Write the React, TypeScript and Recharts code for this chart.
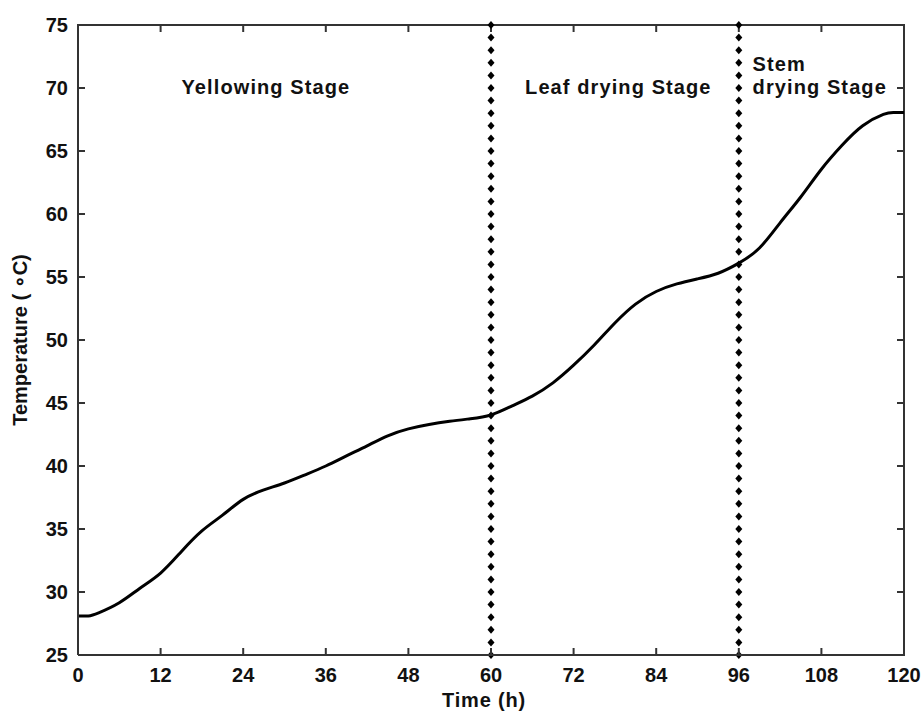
import React from 'react';
import { LineChart, Line, XAxis, YAxis, ReferenceLine, ReferenceDot, ReferenceArea, Label } from 'recharts';

const times = [0, 1.5, 3, 6, 9, 12, 15, 18, 21, 24, 27, 30, 33, 36, 39, 42, 45, 48, 51, 54, 57, 60, 63, 66, 69, 72, 75, 78, 81, 84, 87, 90, 93, 96, 99, 102, 105, 108, 111, 114, 117, 118.5, 120];
const temps = [28.1, 28.1, 28.35, 29.15, 30.3, 31.5, 33.2, 34.85, 36.1, 37.35, 38.1, 38.65, 39.3, 40.0, 40.8, 41.6, 42.4, 42.95, 43.3, 43.55, 43.75, 44.05, 44.75, 45.55, 46.6, 48.0, 49.6, 51.35, 52.85, 53.85, 54.45, 54.85, 55.3, 56.1, 57.3, 59.3, 61.35, 63.55, 65.45, 67.0, 67.9, 68.05, 68.05];

const xTicks = [0, 12, 24, 36, 48, 60, 72, 84, 96, 108, 120];
const yTicks = [25, 30, 35, 40, 45, 50, 55, 60, 65, 70, 75];
const xDomain = [0, 120];
const yDomain = [25, 75];
const stageBoundaries = [60, 96];

const stageNames = ['Yellowing Stage', 'Leaf drying Stage', 'Stem', 'drying Stage'];
const stageTimes = [27.3, 78.5, 98.0, 98.0];
const stageTemps = [69.5, 69.5, 71.35, 69.5];
const stageAnchors = ['middle', 'middle', 'start', 'start'];

const data = times.map((t, i) => ({ time: t, temp: temps[i] }));

const FONT = '"Liberation Sans", Arial, Helvetica, sans-serif';
const AXIS_COLOR = '#333';
const TICK_LEN = 7;
const X_MARGIN = 13;
const Y_MARGIN = 10;

// filled quadrilateral between two points, 2px thick
const bar = (ax: number, ay: number, bx: number, by: number, key?: string) => {
  const vertical = Math.abs(ax - bx) < Math.abs(ay - by);
  const pts = vertical
    ? `${ax - 1},${ay} ${ax + 1},${ay} ${bx + 1},${by} ${bx - 1},${by}`
    : `${ax},${ay - 1} ${ax},${ay + 1} ${bx},${by + 1} ${bx},${by - 1}`;
  return <polygon key={key} points={pts} fill={AXIS_COLOR} />;
};

const BottomTick = (props: any) => {
  const { x, y, payload } = props;
  const axisY = Number(y) - X_MARGIN;
  const px = Number(x);
  return (
    <g>
      {bar(px, axisY, px, axisY - TICK_LEN)}
      <text x={px} y={y} dy="0.71em" textAnchor="middle" fontFamily={FONT} fontWeight="bold" fontSize={20} fill="#111">
        {payload.value}
      </text>
    </g>
  );
};

const LeftTick = (props: any) => {
  const { x, y, payload } = props;
  const axisX = Number(x) + Y_MARGIN;
  const py = Number(y);
  return (
    <g>
      {bar(axisX, py, axisX + TICK_LEN, py)}
      <text x={x} y={py} dy="0.355em" textAnchor="end" fontFamily={FONT} fontWeight="bold" fontSize={20} fill="#111">
        {payload.value}
      </text>
    </g>
  );
};

// Frame: top and right edges with inward ticks, placed within the area's own pixel box
const Frame = (props: any) => {
  const x = Number(props.x);
  const y = Number(props.y);
  const width = Number(props.width);
  const height = Number(props.height);
  const xs = xDomain[1] - xDomain[0];
  const ys = yDomain[1] - yDomain[0];
  const right = x + width;
  const bottom = y + height;
  return (
    <g>
      {bar(x - 1, y, right + 1, y, 'top')}
      {bar(right, y - 1, right, bottom + 1, 'right')}
      {xTicks.map((t) => {
        const tx = x + ((t - xDomain[0]) / xs) * width;
        return bar(tx, y, tx, y + TICK_LEN, 't' + t);
      })}
      {yTicks.map((v) => {
        const ty = bottom - ((v - yDomain[0]) / ys) * height;
        return bar(right, ty, right - TICK_LEN, ty, 'r' + v);
      })}
    </g>
  );
};

const DiamondLine = (props: any) => {
  const { x1, y1, x2, y2 } = props;
  const n = yDomain[1] - yDomain[0];
  const items = [];
  for (let i = 0; i <= n; i++) {
    const cx = x1 + ((x2 - x1) * i) / n;
    const cy = y1 + ((y2 - y1) * i) / n;
    items.push(
      <polygon
        key={i}
        points={`${cx},${cy - 4} ${cx + 3.5},${cy} ${cx},${cy + 4} ${cx - 3.5},${cy}`}
        fill="#000"
      />
    );
  }
  return <g>{items}</g>;
};

export default function App() {
  return (
    <div style={{ position: 'absolute', left: 0, top: 0, width: 921, height: 711, background: '#fff' }}>
      <LineChart width={921} height={711} data={data} margin={{ top: 25, right: 17, bottom: 0, left: 0 }}>
        <XAxis
          dataKey="time"
          type="number"
          domain={xDomain}
          ticks={xTicks}
          interval={0}
          allowDataOverflow
          height={56}
          tickSize={0}
          tickMargin={X_MARGIN}
          tickLine={false}
          tick={BottomTick}
          axisLine={{ stroke: AXIS_COLOR, strokeWidth: 2 }}
        >
          <Label
            value="Time (h)"
            position="insideBottom"
            offset={4}
            dx={-7}
            fill="#111"
            fontSize={20}
            fontWeight="bold"
            fontFamily={FONT}
            style={{ letterSpacing: '0.8px' }}
          />
        </XAxis>
        <YAxis
          type="number"
          domain={yDomain}
          ticks={yTicks}
          interval={0}
          allowDataOverflow
          width={78}
          tickSize={0}
          tickMargin={Y_MARGIN}
          tickLine={false}
          tick={LeftTick}
          axisLine={{ stroke: AXIS_COLOR, strokeWidth: 2 }}
        >
          <Label
            value="Temperature ( ∘C)"
            angle={-90}
            position="center"
            dx={-19}
            fill="#111"
            fontSize={20}
            fontWeight="bold"
            fontFamily={FONT}
          />
        </YAxis>
        <ReferenceArea
          x1={xDomain[0]}
          x2={xDomain[1]}
          y1={yDomain[0]}
          y2={yDomain[1]}
          ifOverflow="visible"
          fill="none"
          stroke="none"
          shape={Frame}
        />
        {stageBoundaries.map((b) => (
          <ReferenceLine key={b} x={b} shape={DiamondLine} />
        ))}
        {stageNames.map((name, i) => (
          <ReferenceDot
            key={name}
            x={stageTimes[i]}
            y={stageTemps[i]}
            r={0}
            shape={(p: any) => (
              <text
                x={p.cx}
                y={p.cy}
                textAnchor={stageAnchors[i] as any}
                fontFamily={FONT}
                fontWeight="bold"
                fontSize={20}
                fill="#111"
                style={{ letterSpacing: '1.1px' }}
              >
                {name}
              </text>
            )}
          />
        ))}
        <Line
          type="natural"
          dataKey="temp"
          stroke="#000"
          strokeWidth={3}
          dot={false}
          activeDot={false}
          isAnimationActive={false}
        />
      </LineChart>
    </div>
  );
}
